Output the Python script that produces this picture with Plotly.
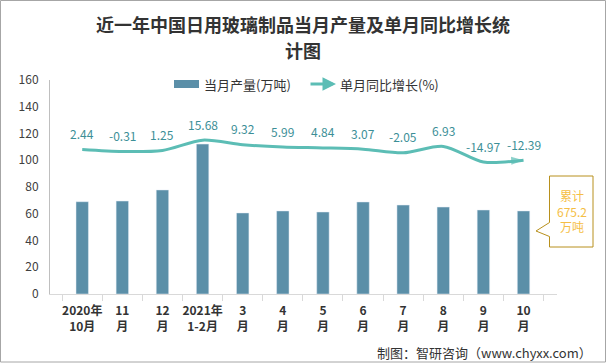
import plotly.graph_objects as go

categories = ["2020年<br>10月", "11<br>月", "12<br>月", "2021年<br>1-2月", "3<br>月", "4<br>月",
              "5<br>月", "6<br>月", "7<br>月", "8<br>月", "9<br>月", "10<br>月"]
production = [69.0, 69.5, 77.8, 112.1, 60.6, 62.1, 61.3, 68.8, 66.5, 65.0, 62.8, 62.1]
growth = [2.44, -0.31, 1.25, 15.68, 9.32, 5.99, 4.84, 3.07, -2.05, 6.93, -14.97, -12.39]
growth_labels = ["2.44", "-0.31", "1.25", "15.68", "9.32", "5.99", "4.84", "3.07", "-2.05", "6.93", "-14.97", "-12.39"]

BAR_COLOR = "#5B8FA8"
LINE_COLOR = "#5CBDB5"
LABEL_COLOR = "#3C8F97"
FONT = "Noto Sans CJK SC, Noto Sans, sans-serif"

W, H = 606, 363
L, R, T, B = 50, 49, 80, 69
PW, PH = W - L - R, H - T - B


def px(x):
    return (x - L) / PW


def py(y):
    return (H - B - y) / PH


n = len(categories)
symbols = ["circle"] + ["circle"] * (n - 2) + ["arrow"]
sizes = [11] + [0] * (n - 2) + [13]
mcolors = ["#F5B325"] + [LINE_COLOR] * (n - 1)

fig = go.Figure()
fig.add_trace(go.Bar(x=categories, y=production, marker_color=BAR_COLOR, width=0.31,
                     name="当月产量(万吨)", showlegend=False))
fig.add_trace(go.Scatter(x=categories, y=growth, yaxis="y2", mode="lines+markers",
                         line=dict(color=LINE_COLOR, width=3, shape="spline", smoothing=0.8),
                         marker=dict(symbol=symbols, size=sizes, color=mcolors, angleref="previous",
                                     line=dict(width=0)),
                         name="单月同比增长(%)", showlegend=False))

annotations = []
for c, v, t in zip(categories, growth, growth_labels):
    annotations.append(dict(x=c, y=v, xref="x", yref="y2", text=t, showarrow=False,
                            yshift=16, font=dict(size=12, color=LABEL_COLOR, family=FONT)))

# title
annotations.append(dict(x=px(303), y=py(24), xref="paper", yref="paper",
                        text="<b>近一年中国日用玻璃制品当月产量及单月同比增长统</b>", showarrow=False,
                        xanchor="center", yanchor="middle", font=dict(size=18, color="#333333", family=FONT)))
annotations.append(dict(x=px(303), y=py(50), xref="paper", yref="paper",
                        text="<b>计图</b>", showarrow=False,
                        xanchor="center", yanchor="middle", font=dict(size=18, color="#333333", family=FONT)))
# legend
annotations.append(dict(x=px(202), y=py(84), xref="paper", yref="paper", text="当月产量(万吨)",
                        showarrow=False, xanchor="left", yanchor="middle",
                        font=dict(size=13, color="#333333", family=FONT)))
annotations.append(dict(x=px(338), y=py(84), xref="paper", yref="paper", text="单月同比增长(%)",
                        showarrow=False, xanchor="left", yanchor="middle",
                        font=dict(size=13, color="#333333", family=FONT)))
annotations.append(dict(x=px(336), y=py(84), ax=-27, ay=0, xref="paper", yref="paper",
                        axref="pixel", ayref="pixel", text="", showarrow=True, arrowhead=2,
                        arrowsize=0.9, arrowwidth=3, arrowcolor=LINE_COLOR))
# callout text
annotations.append(dict(x=px(572), y=py(211.5), xref="paper", yref="paper", text="累计<br>675.2<br>万吨",
                        showarrow=False, xanchor="center", yanchor="middle",
                        font=dict(size=12, color="#F5BE45", family=FONT)))
# footer
annotations.append(dict(x=px(594), y=py(352), xref="paper", yref="paper",
                        text="制图：智研咨询（www.chyxx.com）", showarrow=False,
                        xanchor="right", yanchor="middle", font=dict(size=13, color="#333333", family=FONT)))

bl, br, bt, bb = 549.5, 593, 176, 247
tipx, tipy = 536, 231
n1, n2 = 222.5, 236.5
path = (f"M {px(bl)},{py(bt)} L {px(br)},{py(bt)} L {px(br)},{py(bb)} L {px(bl)},{py(bb)} "
        f"L {px(bl)},{py(n2)} L {px(tipx)},{py(tipy)} L {px(bl)},{py(n1)} Z")

shapes = [
    dict(type="rect", xref="paper", yref="paper", x0=px(174), x1=px(199), y0=py(80), y1=py(88),
         fillcolor=BAR_COLOR, line=dict(width=0)),
    dict(type="path", xref="paper", yref="paper", path=path, fillcolor="white",
         line=dict(color="#B8901C", width=1)),
    dict(type="rect", xref="paper", yref="paper", x0=px(0.5), x1=px(605.5), y0=py(0.5), y1=py(362),
         line=dict(color="#A6A6A6", width=1), fillcolor="rgba(0,0,0,0)", layer="below"),
]

fig.update_layout(
    width=W, height=H, margin=dict(l=L, r=R, t=T, b=B, autoexpand=False),
    paper_bgcolor="white", plot_bgcolor="white",
    font=dict(family=FONT, color="#333333"),
    xaxis=dict(type="category", showline=True, linecolor="#D9D9D9", linewidth=1,
               ticks="outside", tickson="boundaries", ticklen=6, tickcolor="#D9D9D9",
               tickangle=0, automargin=False, ticklabelstandoff=6,
               tickfont=dict(size=12, color="#333333", family=FONT, weight="bold"),
               showgrid=False, zeroline=False, fixedrange=True),
    yaxis=dict(range=[0, 160], dtick=20, showline=True, linecolor="#BFBFBF", linewidth=1,
               showgrid=False, zeroline=False, ticks="", tickfont=dict(size=12, color="#404040"),
               ticklabelstandoff=8, automargin=False),
    yaxis2=dict(range=[-200, 100], overlaying="y", visible=False, showgrid=False, zeroline=False),
    annotations=annotations, shapes=shapes, showlegend=False,
)

fig.write_html("out.html", config={"displayModeBar": False},
               post_script="document.body.style.margin='0';document.body.style.overflow='hidden';")
